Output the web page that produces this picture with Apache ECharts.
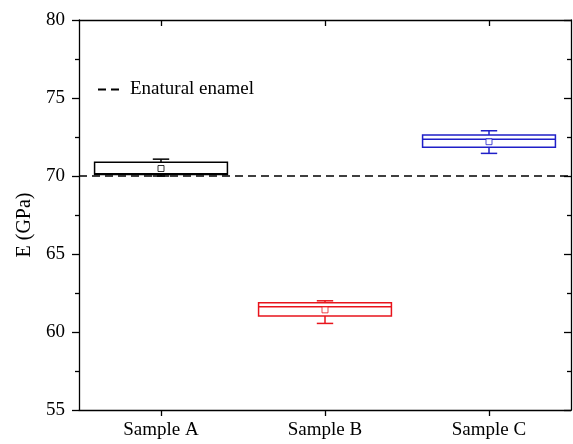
<!DOCTYPE html>
<html>
<head>
<meta charset="utf-8">
<script src="https://cdn.jsdelivr.net/npm/echarts@6/dist/echarts.min.js"></script>
<style>
  html, body { margin: 0; padding: 0; background: #fff; }
  #chart { width: 573px; height: 444px; }
</style>
</head>
<body>
<div id="chart"></div>
<script>
const categories = ['Sample A', 'Sample B', 'Sample C']
// [min, Q1, median, Q3, max]
const boxStats = [
  [70.0, 70.1, 70.15, 70.88, 71.08],
  [60.55, 61.03, 61.62, 61.88, 62.0],
  [71.45, 71.84, 72.35, 72.63, 72.9]
]
const means = [70.48, 61.42, 72.2]
const boxColors = ['#000000', '#e8141c', '#1f1fc8']
const referenceName = 'Enatural enamel'
const referenceValue = 70
const yTicks = { min: 55, max: 80, interval: 5 }

const font = 'Liberation Serif'

const chart = echarts.init(document.getElementById('chart'))

const renderBox = (params, api) => {
  const idx = api.value(0)
  const color = boxColors[idx]
  const band = api.size([1, 0])[0]
  const half = band * 0.405
  const capHalf = band * 0.05
  const pMin = api.coord([idx, api.value(1)])
  const pQ1 = api.coord([idx, api.value(2)])
  const pMed = api.coord([idx, api.value(3)])
  const pQ3 = api.coord([idx, api.value(4)])
  const pMax = api.coord([idx, api.value(5)])
  const x = pMed[0]
  const style = { stroke: color, lineWidth: 1.5, fill: null }
  return {
    type: 'group',
    children: [
      { type: 'line', shape: { x1: x, y1: pQ3[1], x2: x, y2: pMax[1] }, style },
      { type: 'line', shape: { x1: x, y1: pQ1[1], x2: x, y2: pMin[1] }, style },
      { type: 'line', shape: { x1: x - capHalf, y1: pMax[1], x2: x + capHalf, y2: pMax[1] }, style },
      { type: 'line', shape: { x1: x - capHalf, y1: pMin[1], x2: x + capHalf, y2: pMin[1] }, style },
      { type: 'rect', shape: { x: x - half, y: pQ3[1], width: half * 2, height: pQ1[1] - pQ3[1] }, style: { stroke: color, lineWidth: 1.5, fill: '#fff' } },
      { type: 'line', shape: { x1: x - half, y1: pMed[1], x2: x + half, y2: pMed[1] }, style }
    ]
  }
}

const axisLine = { show: true, lineStyle: { color: '#000', width: 1.3 } }
const dash = { color: '#000', type: [8, 5], width: 1.7 }

chart.setOption({
  animation: false,
  backgroundColor: '#fff',
  grid: { left: 79, right: 2, top: 20, bottom: 34 },
  legend: {
    data: [referenceName],
    left: 92,
    top: 75,
    itemWidth: 22,
    itemHeight: 14,
    itemStyle: { opacity: 0 },
    textStyle: { fontFamily: font, fontSize: 19, color: '#000', padding: [0, 0, 0, 5] }
  },
  xAxis: [
    {
      type: 'category',
      data: categories,
      axisLine,
      axisTick: { show: true, alignWithLabel: true, length: 6, lineStyle: { color: '#000', width: 1.3 } },
      axisLabel: { fontFamily: font, fontSize: 19, color: '#000', margin: 11 },
      splitLine: { show: false }
    },
    {
      type: 'category',
      data: categories,
      position: 'top',
      axisLine,
      axisTick: { show: true, inside: true, alignWithLabel: true, length: 6, lineStyle: { color: '#000', width: 1.3 } },
      axisLabel: { show: false },
      splitLine: { show: false }
    }
  ],
  yAxis: [
    {
      type: 'value',
      min: yTicks.min,
      max: yTicks.max,
      interval: yTicks.interval,
      name: 'E (GPa)',
      nameLocation: 'middle',
      nameGap: 36,
      nameTextStyle: { fontFamily: font, fontSize: 20, color: '#000', padding: [0, 20, 0, 0] },
      axisLine,
      axisTick: { show: true, length: 7, lineStyle: { color: '#000', width: 1.3 } },
      minorTick: { show: true, splitNumber: 2, length: 4, lineStyle: { color: '#000', width: 1.3 } },
      axisLabel: { fontFamily: font, fontSize: 19, color: '#000', margin: 14 },
      splitLine: { show: false }
    },
    {
      type: 'value',
      position: 'right',
      min: yTicks.min,
      max: yTicks.max,
      interval: yTicks.interval,
      axisLine,
      axisTick: { show: true, inside: true, length: 7, lineStyle: { color: '#000', width: 1.3 } },
      minorTick: { show: true, splitNumber: 2, length: 4, lineStyle: { color: '#000', width: 1.3 } },
      axisLabel: { show: false },
      splitLine: { show: false }
    }
  ],
  series: [
    {
      type: 'custom',
      renderItem: renderBox,
      encode: { x: 0, y: [1, 2, 3, 4, 5] },
      data: boxStats.map((s, i) => [i, ...s]),
      z: 2
    },
    {
      type: 'scatter',
      symbol: 'rect',
      symbolSize: 6,
      data: means.map((m, i) => ({
        value: [i, m],
        itemStyle: { color: '#fff', borderColor: boxColors[i], borderWidth: 1 }
      })),
      z: 3
    },
    {
      name: referenceName,
      type: 'line',
      symbol: 'none',
      showSymbol: false,
      data: [],
      lineStyle: dash,
      itemStyle: { color: '#000' },
      markLine: {
        silent: true,
        symbol: 'none',
        label: { show: false },
        lineStyle: dash,
        data: [{ yAxis: referenceValue }]
      },
      z: 4
    }
  ]
})
</script>
</body>
</html>
